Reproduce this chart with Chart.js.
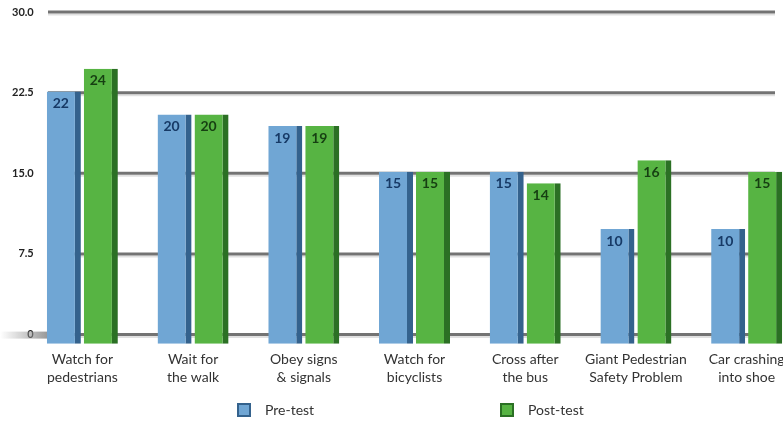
<!DOCTYPE html>
<html>
<head>
<meta charset="utf-8">
<script src="https://cdn.jsdelivr.net/npm/chart.js@4"></script>
<style>
  body { margin: 0; background: #fff; overflow: hidden; }
  #wrap { width: 810px; height: 421px; position: relative; }
</style>
</head>
<body>
<div id="wrap"><canvas id="myChart"></canvas></div>
<script>
let categories = [
    ['Watch for', 'pedestrians'],
    ['Wait for', 'the walk'],
    ['Obey signs', '& signals'],
    ['Watch for', 'bicyclists'],
    ['Cross after', 'the bus'],
    ['Giant Pedestrian', 'Safety Problem'],
    ['Car crashing', 'into shoe']
];
let preTest = [22, 20, 19, 15, 15, 10, 10];
let postTest = [24, 20, 19, 15, 14, 16, 15];
let yTicks = [0, 7.5, 15, 22.5, 30];

let blue = '#70a6d4';
let blueSide = '#34628d';
let green = '#57b443';
let greenSide = '#2b7024';

// grid lines drawn behind the bars, like the original 3d back wall
let backWall = {
    id: 'backWall',
    beforeDatasetsDraw(chart) {
        let ctx = chart.ctx;
        let ys = chart.scales.y;
        ctx.save();
        for (let i = 0; i < yTicks.length; i++) {
            let py = ys.getPixelForValue(yTicks[i]);
            if (yTicks[i] === 0) {
                let g = ctx.createLinearGradient(0, 0, 48, 0);
                g.addColorStop(0, 'rgba(150,150,150,0)');
                g.addColorStop(1, 'rgba(140,140,140,0.9)');
                ctx.fillStyle = g;
                ctx.fillRect(0, py - 3, 48, 7);
            }
            ctx.strokeStyle = 'rgba(0,0,0,0.12)';
            ctx.lineWidth = 2;
            ctx.beginPath();
            ctx.moveTo(48, py + 2.5);
            ctx.lineTo(775, py + 2.5);
            ctx.stroke();
            ctx.strokeStyle = '#737373';
            ctx.lineWidth = 3;
            ctx.beginPath();
            ctx.moveTo(48, py);
            ctx.lineTo(775, py);
            ctx.stroke();
        }
        ctx.restore();
    }
};

let valueLabels = {
    id: 'valueLabels',
    afterDatasetsDraw(chart) {
        let ctx = chart.ctx;
        ctx.save();
        ctx.font = 'bold 14px Lato';
        ctx.textAlign = 'center';
        ctx.textBaseline = 'middle';
        chart.data.datasets.forEach((ds, di) => {
            let meta = chart.getDatasetMeta(di);
            ctx.fillStyle = di === 0 ? '#173a66' : '#163f12';
            meta.data.forEach((bar, i) => {
                let p = bar.getProps(['x', 'y'], true);
                ctx.fillText(ds.data[i], p.x - 3, p.y + 12);
            });
        });
        ctx.restore();
    }
};

let bottomLegend = {
    id: 'bottomLegend',
    afterDraw(chart) {
        let ctx = chart.ctx;
        let cx = chart.width / 2;
        let spots = [cx - 168, cx + 95];
        ctx.save();
        ctx.font = '14px Lato';
        ctx.textBaseline = 'middle';
        chart.data.datasets.forEach((ds, di) => {
            let x = spots[di];
            ctx.fillStyle = ds.borderColor;
            ctx.fillRect(x, 403, 14, 14);
            ctx.fillStyle = ds.backgroundColor;
            ctx.fillRect(x + 2, 405, 10, 10);
            ctx.fillStyle = '#333';
            ctx.fillText(ds.label, x + 28, 410);
        });
        ctx.restore();
    }
};

let ctx = document.getElementById('myChart').getContext('2d');
let myChart = new Chart(ctx, {
    type: 'bar',
    data: {
        labels: categories,
        datasets: [{
            label: 'Pre-test',
            data: preTest,
            backgroundColor: blue,
            borderColor: blueSide,
            borderWidth: {top: 0, right: 6, bottom: 0, left: 0},
            borderSkipped: false,
            base: 0,
            clip: false,
            yAxisID: 'yb'
        }, {
            label: 'Post-test',
            data: postTest,
            backgroundColor: green,
            borderColor: greenSide,
            borderWidth: {top: 0, right: 6, bottom: 0, left: 0},
            borderSkipped: false,
            base: 0,
            clip: false,
            yAxisID: 'yb'
        }]
    },
    options: {
        responsive: true,
        maintainAspectRatio: false,
        animation: false,
        categoryPercentage: 0.668,
        barPercentage: 0.92,
        layout: {
            padding: {top: 12, right: 8, bottom: 18, left: 0}
        },
        plugins: {
            legend: {display: false},
            tooltip: {enabled: false}
        },
        scales: {
            x: {
                grid: {display: false, drawTicks: false},
                border: {display: false},
                ticks: {
                    padding: 16,
                    color: '#333',
                    maxRotation: 0,
                    autoSkip: false,
                    font: {family: 'Lato', size: 14, lineHeight: 1.3}
                }
            },
            y: {
                min: 0,
                max: 30,
                grid: {display: false, drawTicks: false},
                border: {display: false},
                afterBuildTicks: (scale) => {
                    scale.ticks = yTicks.map(v => ({value: v}));
                },
                afterFit: (scale) => {
                    scale.width = 27;
                },
                ticks: {
                    mirror: true,
                    crossAlign: 'far',
                    padding: -15,
                    color: '#222',
                    font: {family: 'Lato', size: 11, weight: 'bold'},
                    callback: (v) => v === 0 ? '0' : v.toFixed(1)
                }
            },
            // bars sit on the front plane, a bit lower and taller than the back wall grid
            yb: {
                display: false,
                min: 0.79,
                max: 28.95
            }
        }
    },
    plugins: [backWall, valueLabels, bottomLegend]
});
</script>
</body>
</html>
